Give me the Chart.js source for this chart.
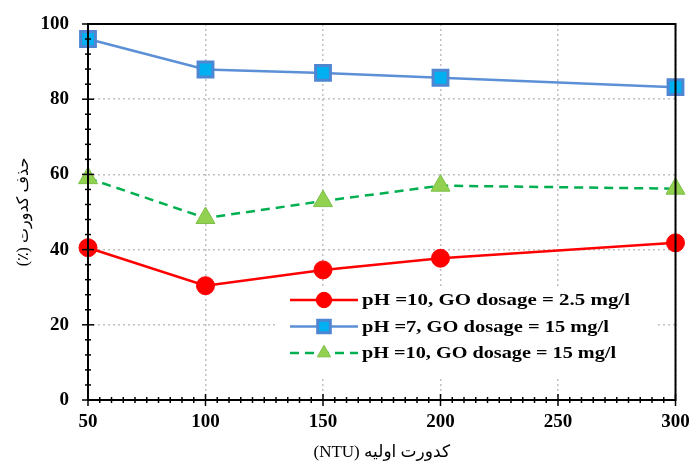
<!DOCTYPE html>
<html><head><meta charset="utf-8">
<script src="https://cdn.jsdelivr.net/npm/chart.js@4/dist/chart.umd.min.js"></script>
<style>html,body{margin:0;padding:0;background:#fff}#wrap{width:689px;height:467px}</style>
</head><body><div id="wrap"><canvas id="c" width="689" height="467"></canvas></div>
<script>
const turbidity = [50, 100, 150, 200, 300];
const seriesLabels = ['pH =10, GO dosage = 2.5 mg/l', 'pH =7, GO dosage = 15 mg/l', 'pH =10, GO dosage = 15 mg/l'];
const removalRed = [40.5, 30.4, 34.6, 37.7, 41.8];
const removalBlue = [96.0, 87.9, 87.0, 85.7, 83.2];
const removalGreen = [59.0, 48.4, 52.9, 57.0, 56.2];
const xTicks = [50, 100, 150, 200, 250, 300];
const yTicks = [0, 20, 40, 60, 80, 100];
const xTitle = '\u202Bکدورت اولیه (NTU)\u202C';
const yTitle = '\u202Bحذف کدورت (٪)\u202C';

const pts = arr => arr.map((v, i) => ({x: turbidity[i], y: v}));
const serif = "'Liberation Serif','Times New Roman',serif";
const titleFont = "'Liberation Serif','DejaVu Sans',serif";

const framePlugin = {
  id: 'frame',
  beforeDatasetsDraw(chart) {
    const {ctx, chartArea: a} = chart;
    ctx.save();
    ctx.fillStyle = '#fff';
    ctx.fillRect(a.left + 187, a.top + 264, 380, 90);
    ctx.restore();
  },
  afterDatasetsDraw(chart) {
    const {ctx, chartArea: a, scales: {x, y}} = chart;
    ctx.save();
    ctx.strokeStyle = '#000';
    ctx.lineWidth = 2;
    ctx.strokeRect(a.left, a.top, a.right - a.left, a.bottom - a.top);
    ctx.lineWidth = 1.5;
    for (let v = 0; v <= 100; v += 4) {
      const py = y.getPixelForValue(v);
      const major = v % 20 === 0;
      ctx.beginPath();
      ctx.moveTo(a.left - (major ? 6 : 3), py);
      ctx.lineTo(a.left + (major ? 6 : 3), py);
      ctx.stroke();
    }
    for (let v = 50; v <= 300; v += 5) {
      const px = x.getPixelForValue(v);
      const major = v % 50 === 0;
      ctx.beginPath();
      ctx.moveTo(px, a.bottom - (major ? 6 : 3));
      ctx.lineTo(px, a.bottom + (major ? 6 : 3));
      ctx.stroke();
    }
    ctx.restore();
  },
  afterDraw(chart) {
    const {ctx, chartArea: a} = chart;
    const lx = a.left + 202, tx = a.left + 274;
    chart.data.datasets.forEach((d, i) => {
      const ly = a.top + 276 + i * 26.5;
      ctx.save();
      ctx.strokeStyle = d.borderColor;
      ctx.lineWidth = d.borderWidth;
      ctx.setLineDash(d.borderDash || []);
      ctx.beginPath(); ctx.moveTo(lx, ly); ctx.lineTo(lx + 68, ly); ctx.stroke();
      ctx.setLineDash([]);
      ctx.fillStyle = d.pointBackgroundColor;
      ctx.strokeStyle = d.pointBorderColor;
      ctx.lineWidth = d.pointBorderWidth;
      Chart.helpers.drawPoint(ctx, {pointStyle: d.pointStyle, radius: d.pointRadius * (i === 2 ? 0.7 : 0.85), borderWidth: d.pointBorderWidth}, lx + 34, ly);
      ctx.restore();
      ctx.save();
      ctx.font = "bold 16px " + serif;
      ctx.textBaseline = 'middle';
      ctx.fillStyle = '#000';
      const w = ctx.measureText(d.label).width;
      const target = [268, 247, 254][i];
      ctx.translate(tx, ly + 1);
      ctx.scale(target / w, 1);
      ctx.fillText(d.label, 0, 0);
      ctx.restore();
    });
  }
};

new Chart(document.getElementById('c'), {
  type: 'line',
  data: {
    datasets: [
      {label: seriesLabels[0], data: pts(removalRed), borderColor: '#ff0000', borderWidth: 2.5, clip: false,
       pointStyle: 'circle', pointRadius: 9, pointBackgroundColor: '#ff0000', pointBorderColor: '#ff0000', pointBorderWidth: 1},
      {label: seriesLabels[1], data: pts(removalBlue), borderColor: '#5b8fd6', borderWidth: 2.5, clip: false,
       pointStyle: 'rect', pointRadius: 10.5, pointBackgroundColor: '#00b0f0', pointBorderColor: '#4f86d2', pointBorderWidth: 3},
      {label: seriesLabels[2], data: pts(removalGreen), borderColor: '#00b050', borderWidth: 2.5, borderDash: [9, 6], clip: false,
       pointStyle: 'triangle', pointRadius: 11, pointBackgroundColor: '#92d050', pointBorderColor: '#7cc04a', pointBorderWidth: 1}
    ]
  },
  options: {
    responsive: false, animation: false,
    layout: {padding: {top: 24, right: 10, left: 8, bottom: 0}},
    plugins: {legend: {display: false}, tooltip: {enabled: false}},
    scales: {
      x: {type: 'linear', min: 50, max: 300,
        afterBuildTicks: s => { s.ticks = xTicks.map(v => ({value: v})); },
        afterFit: s => { s.height = 67; s.paddingLeft = 0; s.paddingRight = 0; },
        grid: {color: '#c0c0c0', lineWidth: 1.5, drawTicks: false},
        border: {display: false, dash: [2, 3]},
        ticks: {color: '#000', padding: 11, font: {family: serif, size: 19, weight: 'bold'}, maxRotation: 0},
        title: {display: true, text: xTitle, color: '#000', padding: {top: 2}, font: {family: titleFont, size: 17}}
      },
      y: {min: 0, max: 100,
        afterBuildTicks: s => { s.ticks = yTicks.map(v => ({value: v})); },
        afterFit: s => { s.width = 80; s.paddingTop = 0; s.paddingBottom = 0; },
        grid: {color: '#c0c0c0', lineWidth: 1.5, drawTicks: false},
        border: {display: false, dash: [2, 3]},
        ticks: {color: '#000', padding: 19, font: {family: serif, size: 19, weight: 'bold'}},
        title: {display: true, text: yTitle, color: '#000', padding: {bottom: 0, top: 6}, font: {family: titleFont, size: 16}}
      }
    }
  },
  plugins: [framePlugin]
});
</script></body></html>
